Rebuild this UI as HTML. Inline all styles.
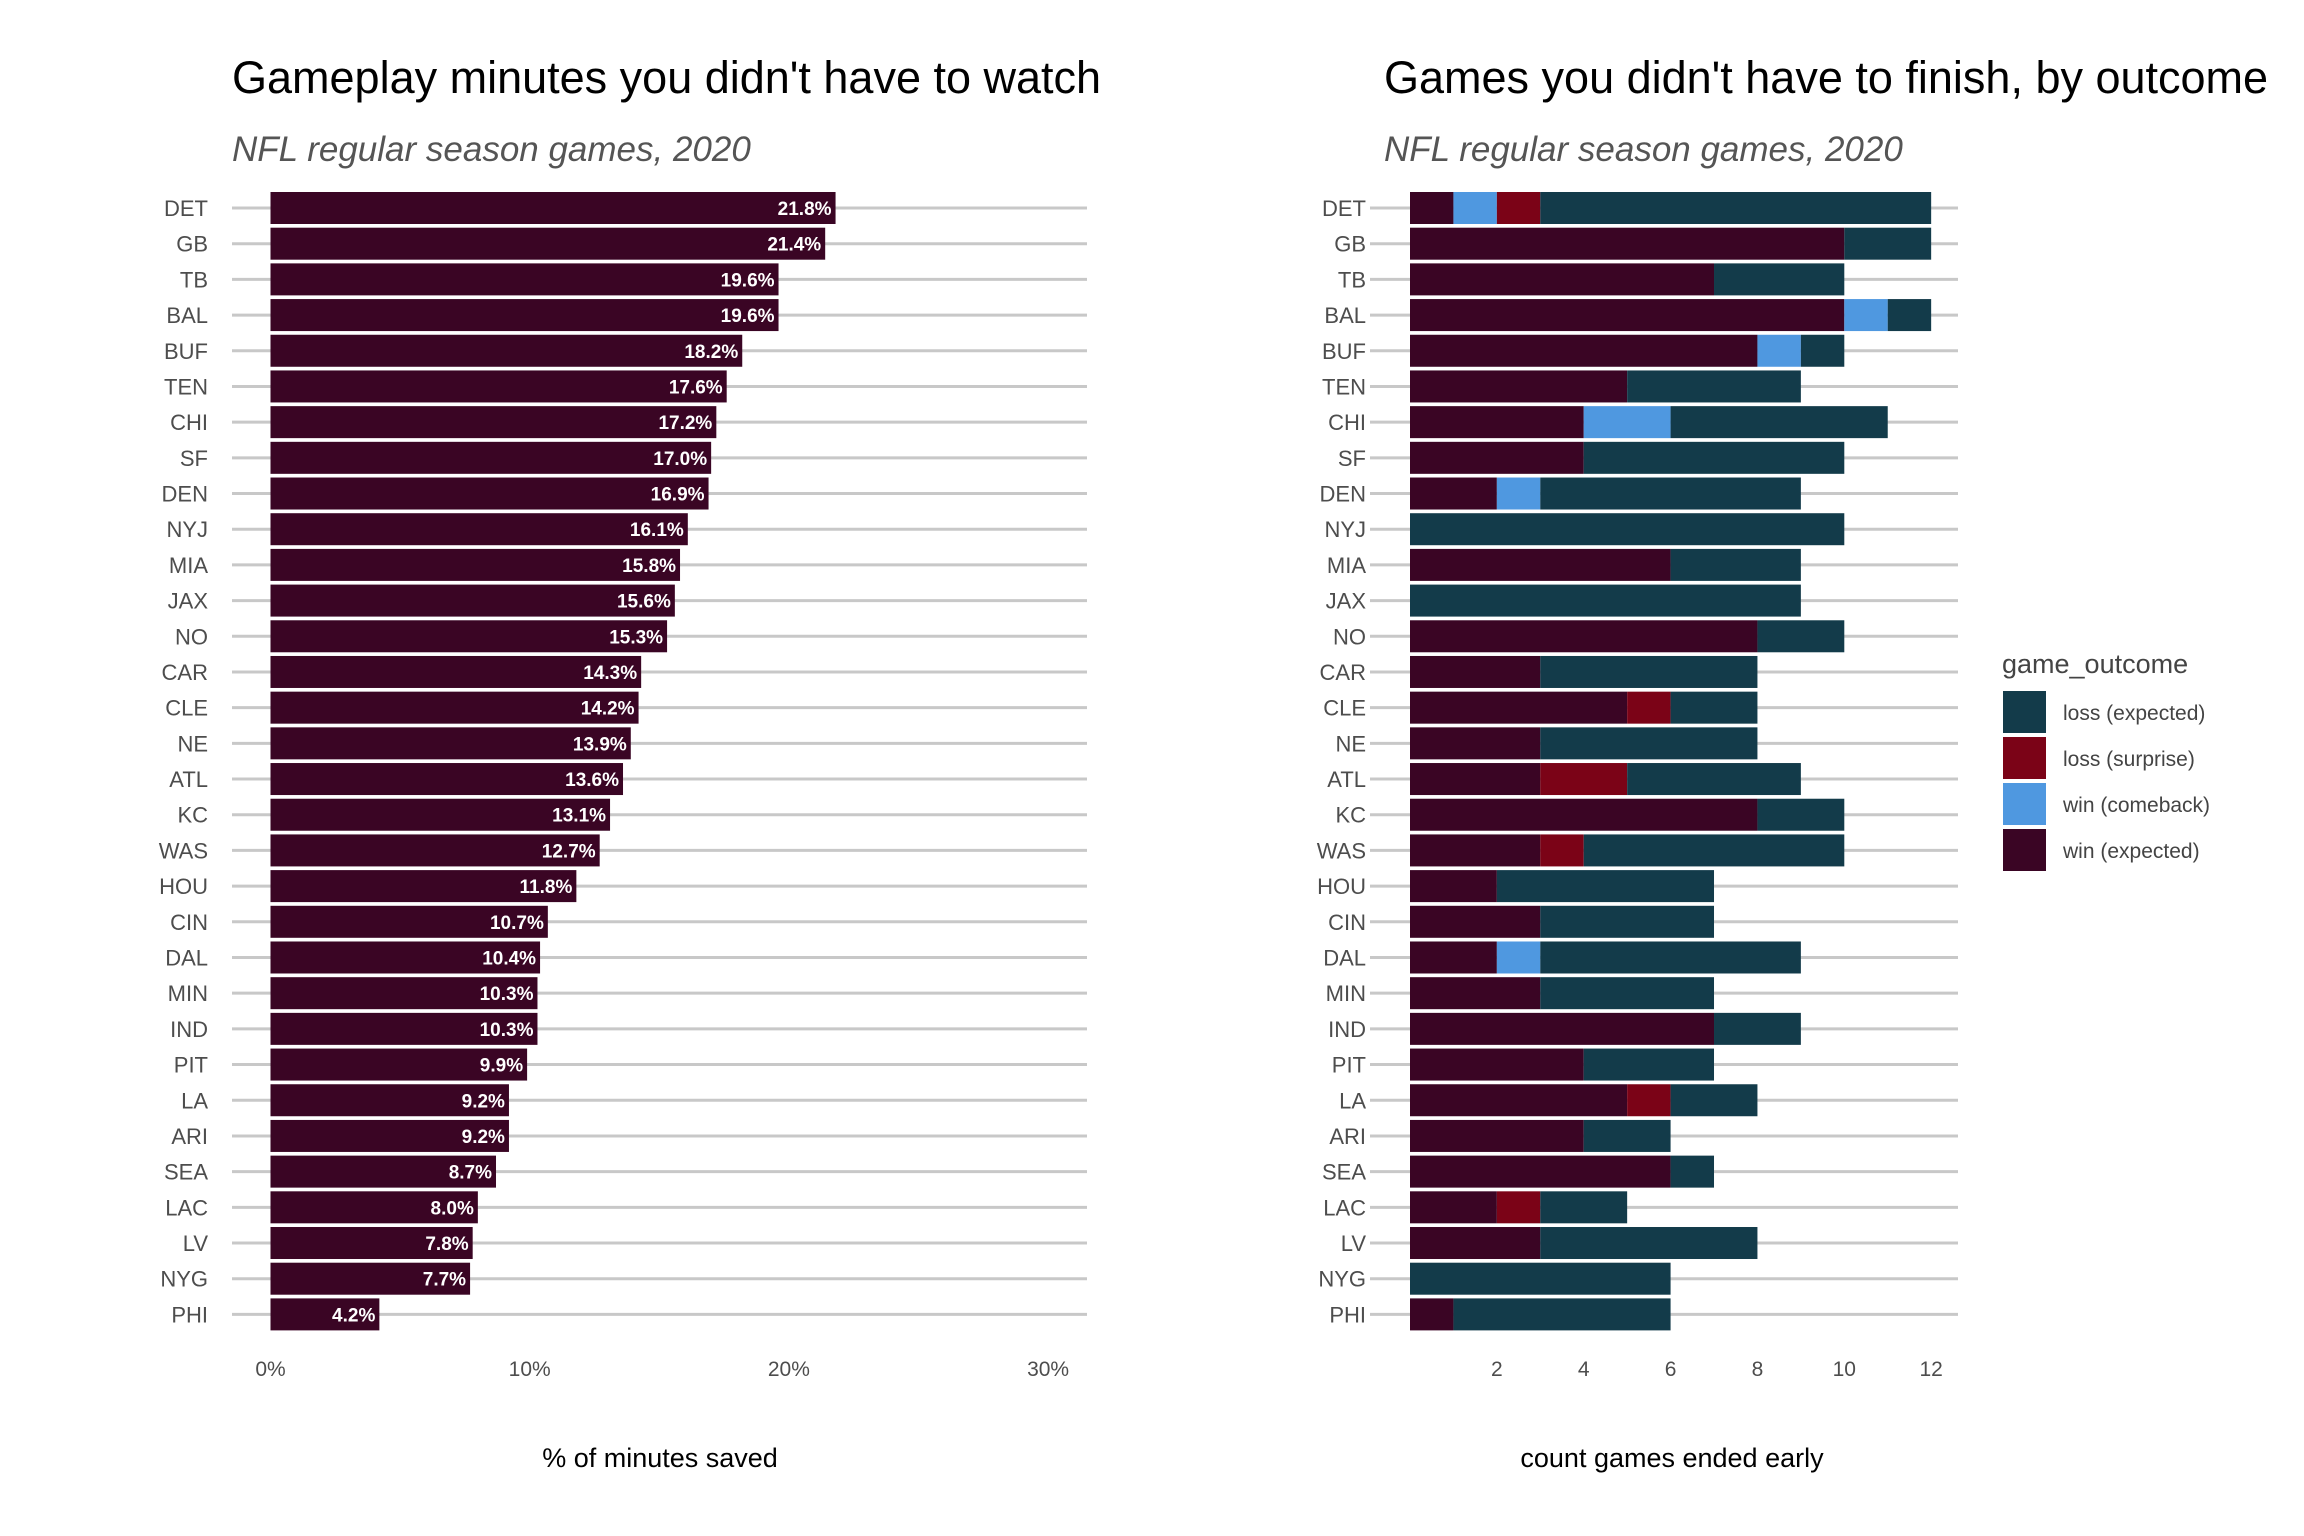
<!DOCTYPE html>
<html><head><meta charset="utf-8"><style>
body{margin:0;background:#fff;}
svg{display:block;font-family:"Liberation Sans",sans-serif;}
</style></head><body>
<svg id="chart" width="2304" height="1536" viewBox="0 0 2304 1536">
<text x="232" y="93" font-size="45" fill="#000">Gameplay minutes you didn't have to watch</text>
<text x="232" y="161" font-size="35" font-style="italic" fill="#555">NFL regular season games, 2020</text>
<text x="1384" y="93" font-size="45" fill="#000">Games you didn't have to finish, by outcome</text>
<text x="1384" y="161" font-size="35" font-style="italic" fill="#555">NFL regular season games, 2020</text>
<g id="left"></g>
<g id="right"></g>
<text x="660" y="1467" font-size="27" text-anchor="middle" fill="#000">% of minutes saved</text>
<text x="1672" y="1467" font-size="27" text-anchor="middle" fill="#000">count games ended early</text>
<g id="legend">
<text x="2002" y="673" font-size="27" fill="#444">game_outcome</text>
</g>
</svg>
<script>
const teams=["DET","GB","TB","BAL","BUF","TEN","CHI","SF","DEN","NYJ","MIA","JAX","NO","CAR","CLE","NE","ATL","KC","WAS","HOU","CIN","DAL","MIN","IND","PIT","LA","ARI","SEA","LAC","LV","NYG","PHI"];
const pctSaved=[21.8,21.4,19.6,19.6,18.2,17.6,17.2,17.0,16.9,16.1,15.8,15.6,15.3,14.3,14.2,13.9,13.6,13.1,12.7,11.8,10.7,10.4,10.3,10.3,9.9,9.2,9.2,8.7,8.0,7.8,7.7,4.2];
const winExpected=[1,10,7,10,8,5,4,4,2,0,6,0,8,3,5,3,3,8,3,2,3,2,3,7,4,5,4,6,2,3,0,1];
const winComeback=[1,0,0,1,1,0,2,0,1,0,0,0,0,0,0,0,0,0,0,0,0,1,0,0,0,0,0,0,0,0,0,0];
const lossSurprise=[1,0,0,0,0,0,0,0,0,0,0,0,0,0,1,0,2,0,1,0,0,0,0,0,0,1,0,0,1,0,0,0];
const lossExpected=[9,2,3,1,1,4,5,6,6,10,3,9,2,5,2,5,4,2,6,5,4,6,4,2,3,2,2,1,2,5,6,5];
const pctTicks=[0,10,20,30];
const countTicks=[2,4,6,8,10,12];
const outcomeNames=["loss (expected)","loss (surprise)","win (comeback)","win (expected)"];
const colors={we:"#3a0524",wc:"#4f98e0",ls:"#7b0317",le:"#133b4a"};
const NS="http://www.w3.org/2000/svg";
function mk(parent,tag,attrs){const e=document.createElementNS(NS,tag);for(const k in attrs)e.setAttribute(k,attrs[k]);parent.appendChild(e);return e;}
const rowY=i=>208+i*35.69;
const barH=32;
const xL=v=>270.5+v*25.92;
const xR=v=>1410+v*43.43;
const L=document.getElementById('left'),R=document.getElementById('right'),G=document.getElementById('legend');
teams.forEach((t,i)=>{
  const y=rowY(i);
  let g=mk(L,'line',{x1:232,x2:1087,y1:y,y2:y,stroke:'#c8c8c8','stroke-width':3});
  
  
  let lb=mk(L,'text',{x:208,y:y+8,'font-size':22,'text-anchor':'end',fill:'#4d4d4d'});lb.textContent=t;
  
  
  let b=mk(L,'rect',{x:xL(0),y:y-barH/2,width:xL(pctSaved[i])-xL(0),height:barH,fill:colors.we});
  
  
  let v=mk(L,'text',{x:xL(pctSaved[i])-4,y:y+7,'font-size':19,'font-weight':'bold','text-anchor':'end',fill:'#fff'});v.textContent=pctSaved[i].toFixed(1)+'%';
  
  
  let g2=mk(R,'line',{x1:1370,x2:1958,y1:y,y2:y,stroke:'#c8c8c8','stroke-width':3});
  
  
  let lb2=mk(R,'text',{x:1366,y:y+8,'font-size':22,'text-anchor':'end',fill:'#4d4d4d'});lb2.textContent=t;
  
  
  let acc=0;
  [[winExpected,'we','win-expected'],[winComeback,'wc','win-comeback'],[lossSurprise,'ls','loss-surprise'],[lossExpected,'le','loss-expected']].forEach(([arr,c,n])=>{
    const val=arr[i];if(!val)return;
    let s=mk(R,'rect',{x:xR(acc),y:y-barH/2,width:xR(acc+val)-xR(acc),height:barH,fill:colors[c]});
    
    
    acc+=val;
  });
});
pctTicks.forEach(v=>{let t=mk(L,'text',{x:xL(v),y:1376,'font-size':21,'text-anchor':'middle',fill:'#4d4d4d'});t.textContent=v+'%';
  
  });
countTicks.forEach(v=>{let t=mk(R,'text',{x:xR(v),y:1376,'font-size':21,'text-anchor':'middle',fill:'#4d4d4d'});t.textContent=v;
  
  });
const legCols=[colors.le,colors.ls,colors.wc,colors.we];
outcomeNames.forEach((n,i)=>{
  const y=691+i*46;
  let r=mk(G,'rect',{x:2003,y:y,width:43,height:42,fill:legCols[i]});
  
  
  let t=mk(G,'text',{x:2063,y:y+29,'font-size':21,fill:'#444'});t.textContent=n;
  
  
});
</script>
</body></html>
